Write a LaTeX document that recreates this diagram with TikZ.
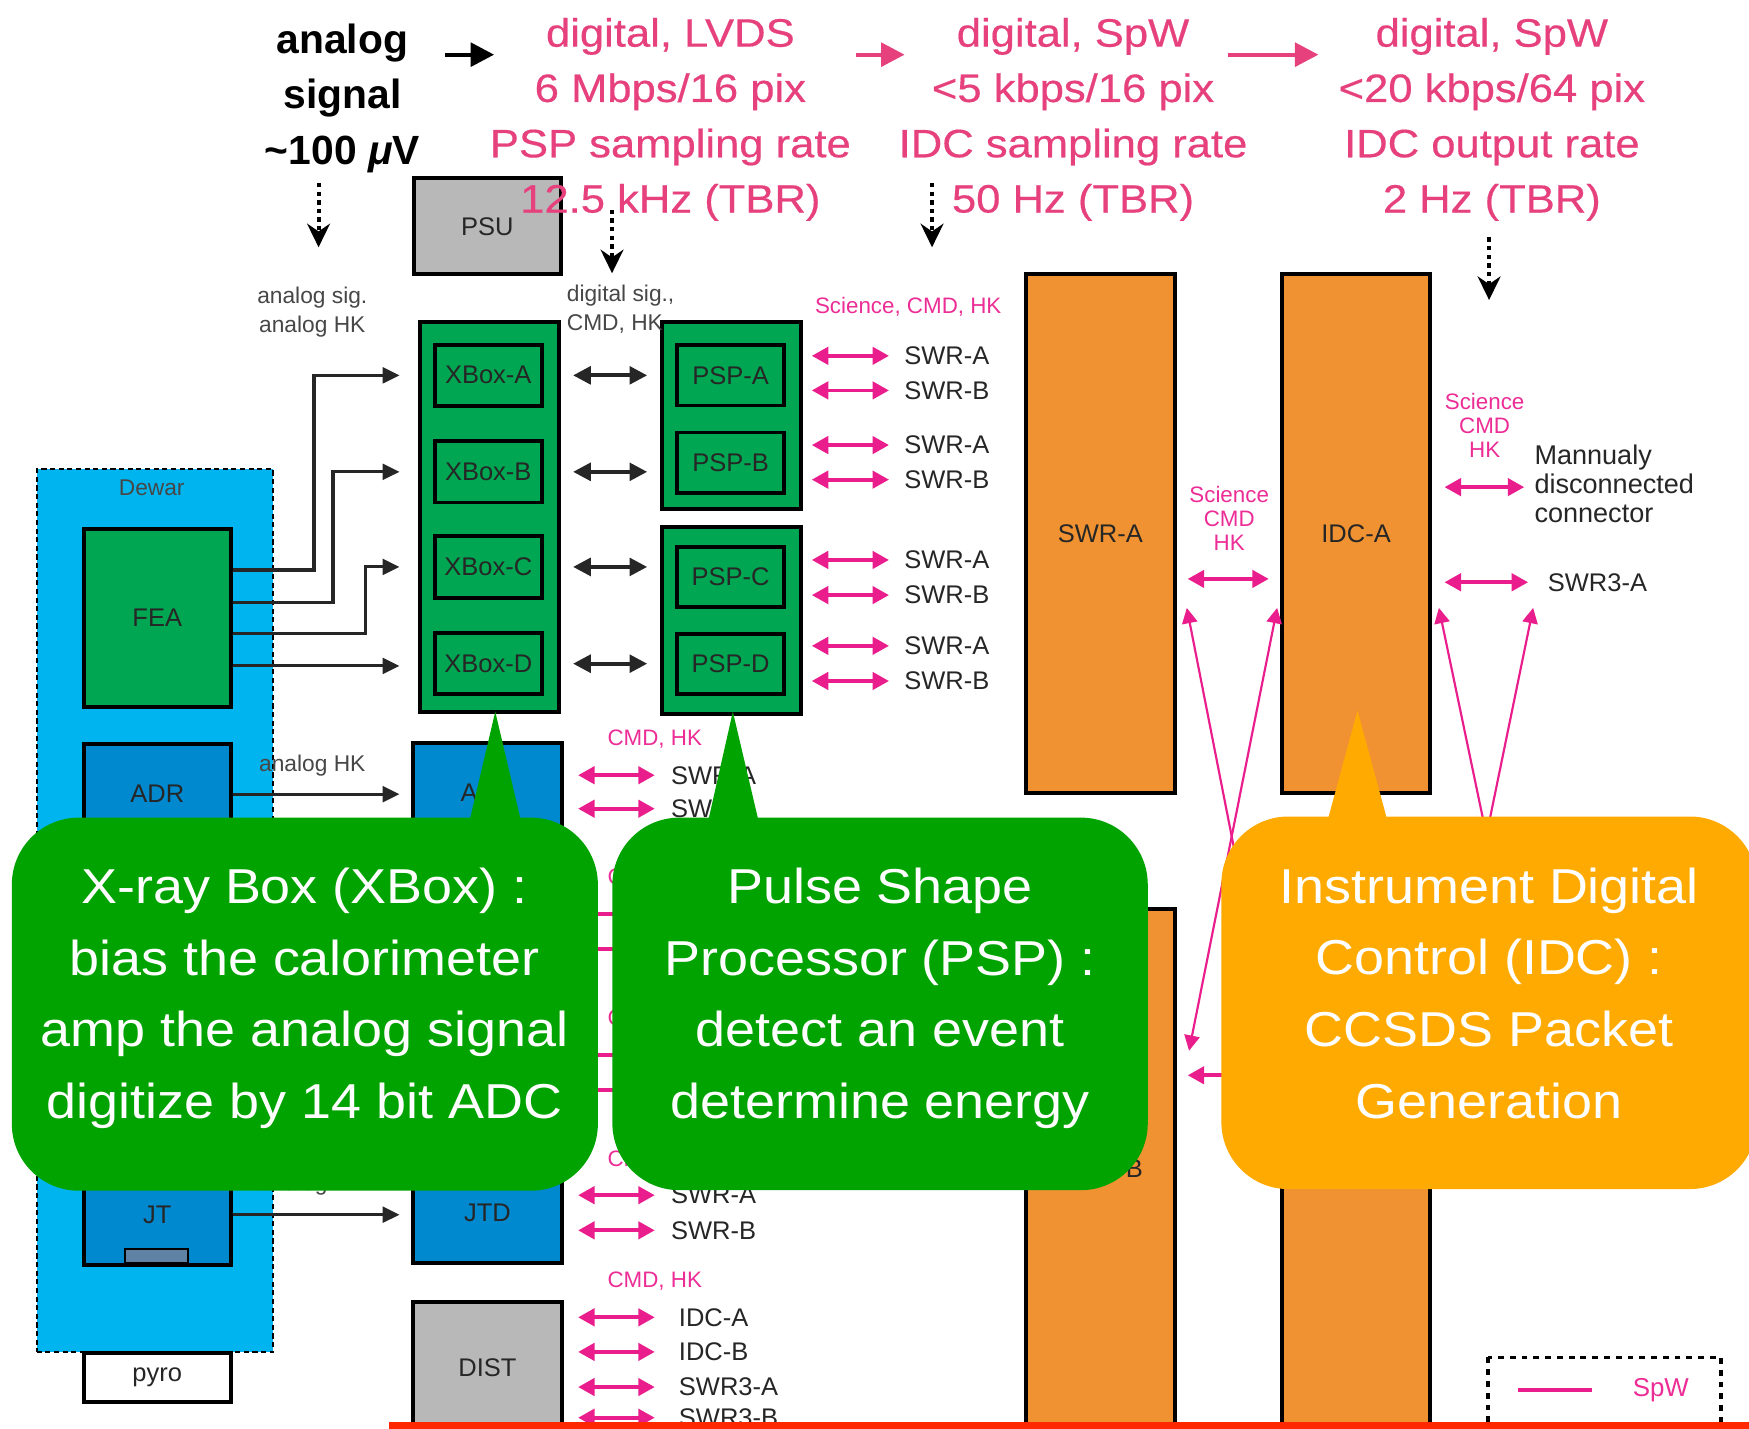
\documentclass[tikz,border=0pt]{standalone}
\usepackage{fontspec}
\setmainfont{Liberation Sans}
\newfontfamily\widesans[FakeStretch=1.1]{Liberation Sans}
\newfontfamily\ratesans[FakeStretch=1.1, FakeBold=0.4]{Liberation Sans}
\usetikzlibrary{arrows.meta}

\definecolor{xgreen}{RGB}{0,166,81}
\definecolor{dewarblue}{RGB}{0,181,239}
\definecolor{cryoblue}{RGB}{0,137,207}
\definecolor{boxgray}{RGB}{184,184,184}
\definecolor{idcorange}{RGB}{240,146,50}
\definecolor{notegreen}{RGB}{0,163,0}
\definecolor{noteorange}{RGB}{255,170,0}
\definecolor{spwpink}{RGB}{233,30,140}
\definecolor{tagpink}{RGB}{236,45,150}
\definecolor{toppink}{RGB}{230,64,125}
\definecolor{heaterblue}{RGB}{95,130,165}
\definecolor{redbar}{RGB}{255,40,0}

\tikzset{
  unitbox/.style={draw=black, line width=1pt, inner sep=0pt, font=\fontsize{6.5}{7.8}\selectfont, text=black!85},
  xgbox/.style={unitbox, fill=xgreen},
  cryobox/.style={unitbox, fill=cryoblue},
  graybox/.style={unitbox, fill=boxgray},
  idcbox/.style={unitbox, fill=idcorange, minimum width=1.33cm, minimum height=4.655cm},
  portlbl/.style={anchor=west, inner sep=0pt, font=\fontsize{6.5}{7.8}\selectfont, text=black!85},
  sigtag/.style={inner sep=0pt, font=\fontsize{5.8}{7.3}\selectfont, text=black!72, align=center},
  spwtag/.style={inner sep=0pt, font=\fontsize{5.7}{6.1}\selectfont, text=tagpink, align=center},
  spw/.style={draw=spwpink, line width=0.95pt, {Triangle[length=4.2pt,width=4.4pt]}-{Triangle[length=4.2pt,width=4.4pt]}},
  spwlink/.style={draw=spwpink, line width=0.55pt, {Triangle[length=3.9pt,width=3.9pt]}-{Triangle[length=3.9pt,width=3.9pt]}},
  analogline/.style={draw=black!85, line width=0.8pt, -{Triangle[length=4.3pt,width=4pt]}},
  bus/.style={draw=black!85, line width=0.95pt, {Triangle[length=4.5pt,width=4.5pt]}-{Triangle[length=4.5pt,width=4.5pt]}},
  flow/.style={line width=1.1pt, -{Triangle[length=6pt,width=6pt]}},
  probe/.style={line width=1pt, dash pattern=on 1.1pt off 1.1pt, -{Stealth[length=6pt,width=5.8pt]}},
  headtxt/.style={align=center, inner sep=0pt, font=\bfseries\fontsize{10.4}{14.1}\selectfont},
  ratetxt/.style={text=toppink, align=center, inner sep=0pt, font=\ratesans\fontsize{10.1}{14.1}\selectfont},
  notetxt/.style={text=white, align=center, inner sep=0pt, font=\widesans\fontsize{12.5}{18.3}\selectfont},
}

\begin{document}
\begin{tikzpicture}[x=0.01cm, y=-0.01cm]
    \useasboundingbox (0,0) rectangle (1568,1281);
    \clip (0,0) rectangle (1568,1281);
    \fill [white] (0,0) rectangle (1568,1281);
    \node[graybox, minimum width=1.32cm, minimum height=0.86cm] (psu) at (437,203) {PSU};

    % data rates along the chain
    \node[headtxt] (analogtxt) at (307,88) {analog\\signal\\\symbol{126}100 {\itshape μ}V};
    \node[ratetxt] (lvds) at (601,107) {digital, LVDS\\6 Mbps/16 pix\\PSP sampling rate\\12.5 kHz (TBR)};
    \node[ratetxt] (spwrate) at (962,107) {digital, SpW\\<5 kbps/16 pix\\IDC sampling rate\\50 Hz (TBR)};
    \node[ratetxt] (outrate) at (1337.5,107) {digital, SpW\\<20 kbps/64 pix\\IDC output rate\\2 Hz (TBR)};
    \draw [flow] (399,49)--(443,49);
    \draw [flow, toppink] (767,49)--(811,49);
    \draw [flow, toppink] (1101,49)--(1182,49);
    \foreach \x/\ya/\yb in {285.6/164/221.7, 548.7/188/245, 835.6/164/221.7, 1335/212.8/269}
        \draw [probe] (\x,\ya)--(\x,\yb);

    % dewar
    \node[draw=black, line width=0.5pt, dash pattern=on 1.3pt off 0.9pt, fill=dewarblue, minimum width=2.12cm, minimum height=7.91cm, inner sep=0pt] (dewar) at (139,816.5) {};
    \node[sigtag] (dewarlbl) at (136,437) {Dewar};
    \node[xgbox, minimum width=1.32cm, minimum height=1.6cm] (fea) at (141,554) {FEA};
    \node[cryobox, minimum width=1.32cm, minimum height=0.9cm] (adr) at (141,712) {ADR};
    \node[cryobox, minimum width=1.32cm, minimum height=0.9cm] (jt) at (141,1089) {JT};
    \draw [fill=heaterblue, line width=0.6pt] (112,1120) rectangle (168.5,1132);
    \node[unitbox, fill=white, minimum width=1.32cm, minimum height=0.44cm] (pyro) at (141,1235) {pyro};

    % electronics boxes
    \node[xgbox, minimum width=1.245cm, minimum height=3.49cm] (xbox) at (438.75,463.5) {};
    \foreach \n/\y in {A/336.5, B/423, C/508.25, D/595}
        \node[xgbox, minimum width=0.955cm, minimum height=0.55cm] (xbox\n) at (437.75,\y) {XBox-\n};
    \node[xgbox, minimum width=1.245cm, minimum height=1.675cm] (pspab) at (655.75,372.75) {};
    \node[xgbox, minimum width=1.245cm, minimum height=1.675cm] (pspcd) at (655.75,556.25) {};
    \foreach \n/\y in {A/336.5, B/414.75, C/517.25, D/595}
        \node[xgbox, minimum width=0.96cm, minimum height=0.54cm] (psp\n) at (655,\y) {PSP-\n};
    \node[cryobox, minimum width=1.33cm, minimum height=0.9cm] (adc) at (437,711) {ADC};
    \node[cryobox, minimum width=1.33cm, minimum height=0.9cm] (jtd) at (437,1087) {JTD};
    \node[graybox, minimum width=1.33cm, minimum height=1.18cm] (dist) at (437,1226) {DIST};

    % analog lines
    \node[sigtag] (feasig) at (280,280) {analog sig.\\analog HK};
    \foreach \y/\x/\n in {511/281.5/A, 540/298.5/B, 568/327.5/C}
        \draw [analogline] (fea.east |- 0,\y)--(\x,\y) |- ([xshift=-0.165cm]xbox.west |- xbox\n);
    \draw [analogline] (fea.east |- 0,597)--([xshift=-0.165cm]xbox.west |- 0,597);
    \node[sigtag] (adrhk) at (280,686) {analog HK};
    \draw [analogline] (adr.east)--([xshift=-0.105cm]adc.west |- adr.east);
    \node[sigtag] (jthk) at (280,1062) {analog HK};
    \draw [analogline] (jt.east)--([xshift=-0.105cm]jtd.west |- jt.east);

    % xbox to psp
    \node[sigtag, align=left, anchor=west] (digsig) at (507.5,277) {digital sig.,\\CMD, HK};
    \foreach \n in {A,B,C,D}
        \draw [bus] ([xshift=0.11cm]xbox.east |- xbox\n)--([xshift=-0.115cm]pspab.west |- xbox\n);

    % spacewire ports
    \node[spwtag, anchor=west] (scitag) at (730,275) {Science, CMD, HK};
    \foreach \y/\t [count=\i] in {319/SWR-A, 350/SWR-B, 399/SWR-A, 430/SWR-B, 502/SWR-A, 533.5/SWR-B, 579/SWR-A, 610.5/SWR-B} {
        \node[portlbl] (pspout\i) at (810,\y) {\t};
        \draw [spw] ([xshift=0.08cm]pspab.east |- pspout\i.west)--([xshift=-0.13cm]pspout\i.west);
    }
    \foreach \y [count=\i] in {662.5, 787, 914, 1040, 1148.5}
        \node[spwtag, anchor=west] (cmdtag\i) at (544,\y) {CMD, HK};
    \foreach \y/\t [count=\i] in {695/SWR-A, 725/SWR-B} {
        \node[portlbl] (adcout\i) at (601,\y) {\t};
        \draw [spw] ([xshift=0.13cm]adc.east |- adcout\i.west)--([xshift=-0.14cm]adcout\i.west);
    }
    \foreach \y in {819.5, 851, 946, 977}
        \draw [spw] (517,\y)--(587,\y);
    \foreach \y/\t [count=\i] in {1071.5/SWR-A, 1103/SWR-B} {
        \node[portlbl] (jtdout\i) at (601,\y) {\t};
        \draw [spw] ([xshift=0.13cm]jtd.east |- jtdout\i.west)--([xshift=-0.14cm]jtdout\i.west);
    }
    \foreach \y/\t [count=\i] in {1181/IDC-A, 1212/IDC-B, 1243.5/SWR3-A, 1271/SWR3-B} {
        \node[portlbl] (distout\i) at (608,\y) {\t};
        \draw [spw] ([xshift=0.13cm]dist.east |- distout\i.west)--([xshift=-0.21cm]distout\i.west);
    }

    % space wire routers and IDC
    \node[idcbox] (swrA) at (986.5,478.3) {SWR-A};
    \node[idcbox] (idcA) at (1215.75,478.3) {IDC-A};
    \node[idcbox] (swrB) at (986.5,1048) {SWR-B};
    \node[idcbox] (idcB) at (1215.75,1048) {};
    \node[spwtag] (linktag) at (1102,465) {Science\\CMD\\HK};
    \draw [spw] ([xshift=0.1cm]swrA.east |- 0,519)--([xshift=-0.1cm]idcA.west |- 0,519);
    \draw [spw] ([xshift=0.1cm]swrB.east |- 0,964)--([xshift=-0.1cm]idcB.west |- 0,964);
    \node[spwtag] (gsetag) at (1331,381) {Science\\CMD\\HK};
    \node[portlbl, align=left, font=\fontsize{6.9}{7.4}\selectfont] (manual) at (1375,434) {Mannualy\\disconnected\\connector};
    \draw [spw] ([xshift=0.11cm]idcA.east |- 0,436.7)--([xshift=-0.085cm]manual.west |- 0,436.7);
    \node[portlbl] (swr3a) at (1387,522) {SWR3-A};
    \draw [spw] ([xshift=0.11cm]idcA.east |- swr3a.west)--([xshift=-0.17cm]swr3a.west);
    \coordinate (swrAtip) at (1064,545);
    \coordinate (idcAtip) at (1145,545);
    \coordinate (swr3tip) at (1290,545);
    \coordinate (idc3tip) at (1374.5,545);
    \draw [spwlink] (swrAtip)--(1142,942);
    \draw [spwlink] (idcAtip)--(1066,942);
    \draw [spwlink] (swr3tip)--(1373,942);
    \draw [spwlink] (idc3tip)--(1293,942);

    % notes
    \fill [notegreen, rounded corners=0.6cm] (10.6,733) rectangle (536,1067.5);
    \fill [notegreen] (420,740)--(444,638)--(468,740)--cycle;
    \node[notetxt] (xboxnote) at (273,895) {X-ray Box (XBox) :\\bias the calorimeter\\amp the analog signal\\digitize by 14 bit ADC};
    \fill [notegreen, rounded corners=0.6cm] (549,733) rectangle (1029,1067);
    \fill [notegreen] (634,740)--(657,638)--(681,740)--cycle;
    \node[notetxt] (pspnote) at (789,895) {Pulse Shape\\Processor (PSP) :\\detect an event\\determine energy};
    \fill [noteorange, rounded corners=0.6cm] (1095,732) rectangle (1575,1066);
    \fill [noteorange] (1189,740)--(1217,637)--(1245,740)--cycle;
    \node[notetxt] (idcnote) at (1335,890.5) {Instrument Digital\\Control (IDC) :\\CCSDS Packet\\Generation};

    % legend
    \draw [line width=1pt, dash pattern=on 1.5pt off 1.5pt] (1334,1217) rectangle (1543,1300);
    \draw [spwpink, line width=1pt] (1360.6,1246)--(1427,1246);
    \node[spwtag, font=\fontsize{6.6}{7}\selectfont] (legend) at (1489,1246) {SpW};
    \fill [redbar] (349,1275) rectangle (1568,1290);
\end{tikzpicture}
\end{document}
